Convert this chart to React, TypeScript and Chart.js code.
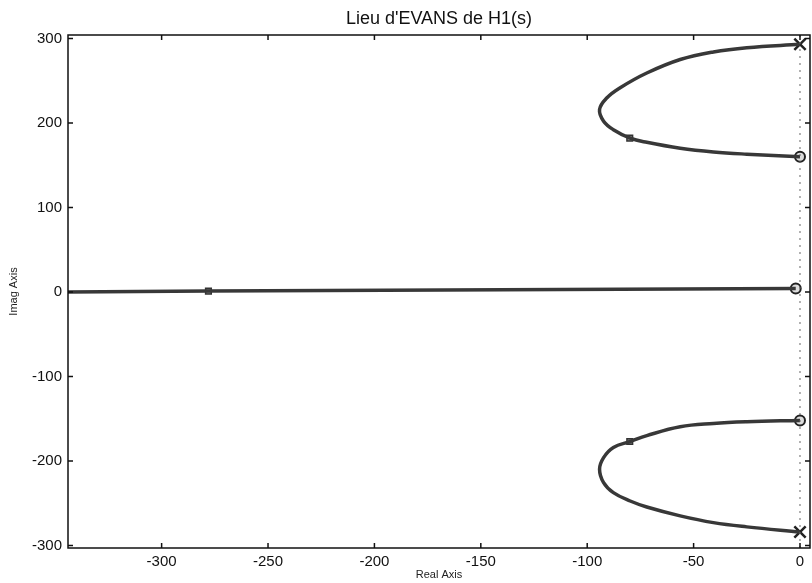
import React, { useEffect, useRef } from "react";
import { Chart, registerables } from "chart.js";

Chart.register(...registerables);

const FONT = "'Liberation Sans', Arial, Helvetica, sans-serif";

const xTicks = [-300, -250, -200, -150, -100, -50, 0];
const yTicks = [-300, -200, -100, 0, 100, 200, 300];

// Real-axis branch
const realBranchX = [-344, -278, -2];
const realBranchY = [0, 1, 4];

// Upper complex branch (pole -> zero)
const upperBranchX = [0, -25, -40.7, -56.3, -72, -84.5, -90.7, -94.2, -92.3, -87.7, -79.8, -72, -56.3, -40.7, -25, 0];
const upperBranchY = [293, 289, 284, 275, 259, 241.6, 229.7, 215.8, 202, 192, 182, 177, 170, 165.6, 163, 160];

// Lower complex branch (zero -> pole)
const lowerBranchX = [0, -25, -40.7, -56.3, -72, -79.8, -87.7, -92.3, -94.2, -92.3, -87.7, -79.8, -72, -56.3, -40.7, -25, 0];
const lowerBranchY = [-152, -153.6, -155.6, -159.5, -170, -177, -184, -196, -209.7, -225.6, -237.5, -247.4, -254.5, -265, -273, -278, -284];

// Open-loop poles (x), zeros (o), closed-loop poles for chosen gain (squares)
const polesX = [0, 0];
const polesY = [293, -284];
const zerosX = [0, 0, -2];
const zerosY = [160, -152, 4];
const gainPointsX = [-278, -80, -80];
const gainPointsY = [1, 182, -177];

// Imaginary axis reference line
const imagAxisX = [0, 0];
const imagAxisY = [-303, 304];

const zip = (xs: number[], ys: number[]) => xs.map((x, i) => ({ x, y: ys[i] }));

const framePlugin = {
  id: "matlabFrame",
  afterDatasetsDraw(chart: any) {
    const { ctx, chartArea } = chart;
    const { left, right, top, bottom } = chartArea;
    const xs = chart.scales.x;
    const ys = chart.scales.y;
    ctx.save();
    ctx.strokeStyle = "#111";
    ctx.lineWidth = 1.5;
    ctx.strokeRect(left, top, right - left, bottom - top);
    const tl = 5;
    ctx.beginPath();
    xTicks.forEach((v) => {
      const px = xs.getPixelForValue(v);
      ctx.moveTo(px, bottom);
      ctx.lineTo(px, bottom - tl);
      ctx.moveTo(px, top);
      ctx.lineTo(px, top + tl);
    });
    yTicks.forEach((v) => {
      const py = ys.getPixelForValue(v);
      ctx.moveTo(left, py);
      ctx.lineTo(left + tl, py);
      ctx.moveTo(right, py);
      ctx.lineTo(right - tl, py);
    });
    ctx.stroke();
    ctx.restore();
  },
};

export default function App() {
  const ref = useRef<HTMLCanvasElement | null>(null);

  useEffect(() => {
    if (!ref.current) return;
    const lineColor = "#383838";
    const branch = (xs: number[], ys: number[]) => ({
      type: "scatter" as const,
      data: zip(xs, ys),
      showLine: true,
      borderColor: lineColor,
      borderWidth: 3.5,
      pointRadius: 0,
      tension: 0.4,
      fill: false,
    });
    const chart = new Chart(ref.current, {
      type: "scatter",
      data: {
        datasets: [
          {
            data: zip(imagAxisX, imagAxisY),
            showLine: true,
            borderColor: "#666",
            borderWidth: 1,
            borderDash: [2, 5],
            pointRadius: 0,
          } as any,
          branch(realBranchX, realBranchY),
          branch(upperBranchX, upperBranchY),
          branch(lowerBranchX, lowerBranchY),
          {
            data: zip(gainPointsX, gainPointsY),
            pointStyle: "rect",
            pointRadius: 4,
            backgroundColor: "#888",
            borderColor: "#333",
            borderWidth: 1.5,
            clip: false,
          } as any,
          {
            data: zip(zerosX, zerosY),
            pointStyle: "circle",
            pointRadius: 5,
            backgroundColor: "#ddd",
            borderColor: "#222",
            borderWidth: 2,
            clip: false,
          } as any,
          {
            data: zip(polesX, polesY),
            pointStyle: "crossRot",
            pointRadius: 8,
            borderColor: "#222",
            borderWidth: 2.5,
            clip: false,
          } as any,
        ],
      },
      options: {
        animation: false,
        responsive: false,
        devicePixelRatio: 1,
        layout: { autoPadding: false, padding: { top: 0, right: 2, left: 0, bottom: 0 } },
        plugins: {
          legend: { display: false },
          tooltip: { enabled: false },
          title: {
            display: true,
            text: "Lieu d'EVANS de H1(s)",
            fullSize: false,
            color: "#111",
            font: { family: FONT, size: 18, weight: "normal" },
            padding: { top: 8, bottom: 5.4 },
          },
        },
        scales: {
          x: {
            type: "linear",
            position: "bottom",
            min: -344,
            max: 4.7,
            afterBuildTicks: (s: any) => {
              s.ticks = xTicks.map((v) => ({ value: v }));
            },
            afterFit: (s: any) => {
              s.height = 35;
              s.paddingLeft = 0;
              s.paddingRight = 0;
            },
            grid: { display: false, drawTicks: false },
            border: { display: false },
            ticks: {
              color: "#111",
              font: { family: FONT, size: 15 },
              padding: 5,
              maxRotation: 0,
              autoSkip: false,
              callback: (v: any) => String(v),
            },
            title: {
              display: true,
              text: "Real Axis",
              color: "#222",
              font: { family: FONT, size: 11 },
              padding: { top: 0, bottom: 1.4 },
            },
          },
          y: {
            type: "linear",
            position: "left",
            min: -303,
            max: 304,
            afterBuildTicks: (s: any) => {
              s.ticks = yTicks.map((v) => ({ value: v }));
            },
            afterFit: (s: any) => {
              s.width = 68;
              s.paddingTop = 0;
              s.paddingBottom = 0;
            },
            grid: { display: false, drawTicks: false },
            border: { display: false },
            ticks: {
              color: "#111",
              font: { family: FONT, size: 15 },
              padding: 6,
              autoSkip: false,
              callback: (v: any) => String(v),
            },
            title: {
              display: true,
              text: "Imag Axis",
              color: "#222",
              font: { family: FONT, size: 11 },
              padding: { top: 7.4, bottom: 0 },
            },
          },
        },
      } as any,
      plugins: [framePlugin],
    });
    return () => chart.destroy();
  }, []);

  return (
    <div style={{ position: "absolute", left: 0, top: 0, width: 812, height: 583, background: "#fff" }}>
      <canvas ref={ref} width={812} height={583} style={{ display: "block" }} />
    </div>
  );
}
